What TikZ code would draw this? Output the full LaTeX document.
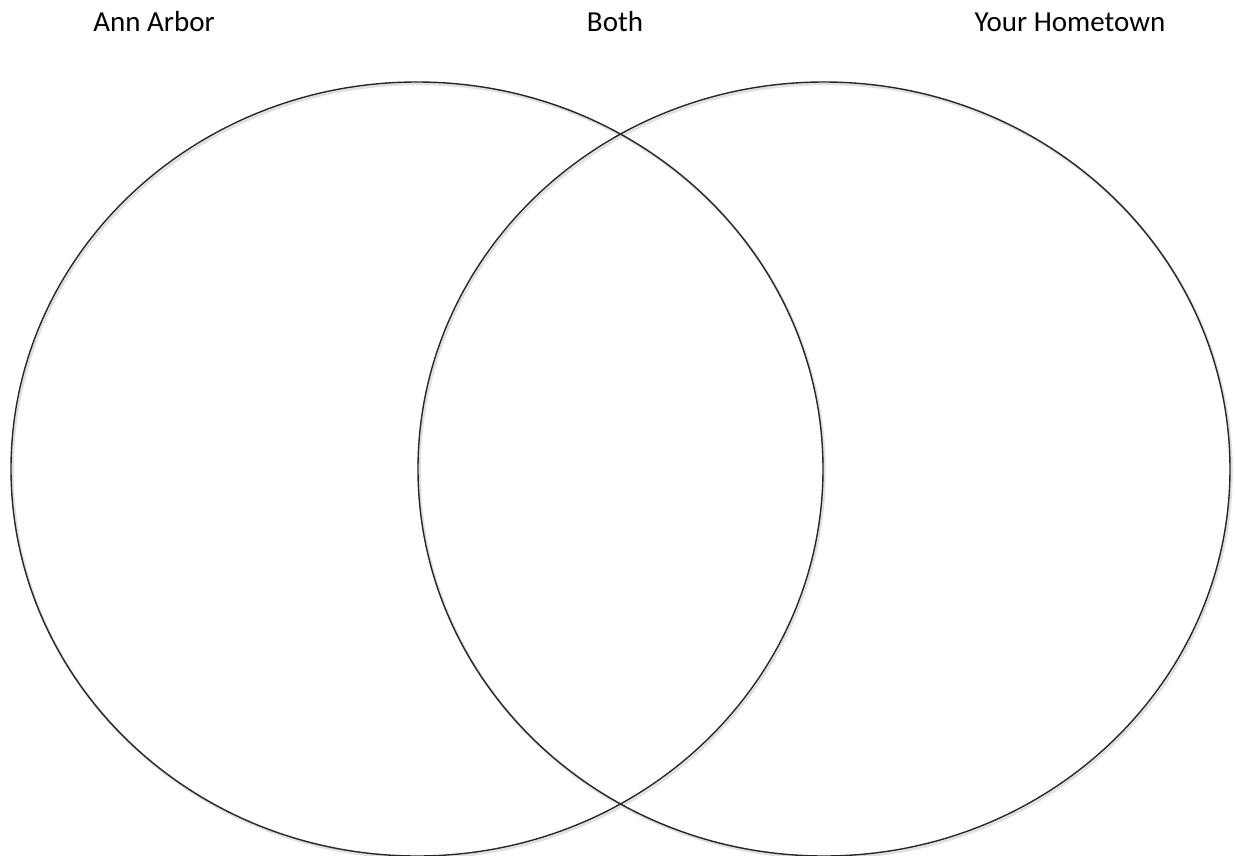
\documentclass[tikz,border=0pt]{standalone}
\usepackage{fontspec}
\setmainfont{Carlito}
\usetikzlibrary{shapes.geometric}
\begin{document}
\begin{tikzpicture}[x=1pt,y=-1pt,
  venn/.style={ellipse, draw=black!85, line width=1.4pt, inner sep=0pt,
    minimum width=812pt, minimum height=774pt},
  shade/.style={ellipse, draw=black!12, line width=2.5pt, inner sep=0pt,
    minimum width=812pt, minimum height=774pt},
  label/.style={font=\fontsize{29}{34}\selectfont, anchor=base, text=black}]
\useasboundingbox[fill=white] (0,0) rectangle (1235,855);
\node[shade] at (418.5,471) {};
\node[shade] at (825.5,471) {};
\node[venn] (left) at (417,469) {};
\node[venn] (right) at (824,469) {};
\node[label] (la) at (154,31) {Ann Arbor};
\node[label] (lb) at (615,31) {Both};
\node[label] (lc) at (1070,31) {Your Hometown};
\end{tikzpicture}
\end{document}
